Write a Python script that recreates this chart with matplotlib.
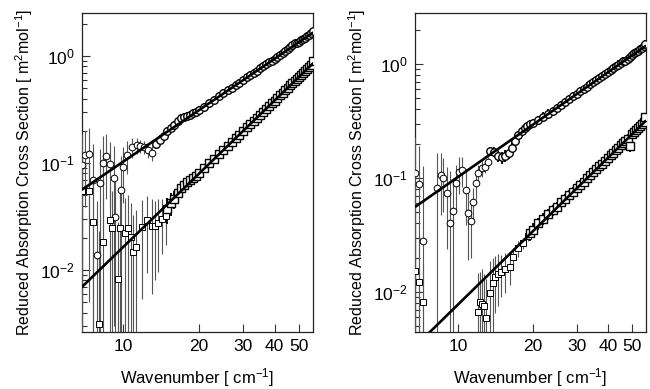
import matplotlib
matplotlib.use("Agg")
import matplotlib.pyplot as plt
from matplotlib.ticker import FixedLocator, FixedFormatter, NullLocator, NullFormatter, LogLocator

plt.rcParams['font.family'] = ['Liberation Sans', 'DejaVu Sans']
plt.rcParams['mathtext.fontset'] = 'custom'
plt.rcParams['mathtext.rm'] = 'Liberation Sans'
plt.rcParams['mathtext.it'] = 'Liberation Sans:italic'
plt.rcParams['mathtext.default'] = 'regular'

# ---------------- data ----------------
x_ticks = [10, 20, 30, 40, 50]
x_tick_labels = ["10", "20", "30", "40", "50"]
y_ticks = [1e-2, 1e-1, 1e0]
y_tick_labels = ["$10^{-2}$", "$10^{-1}$", "$10^{0}$"]
x_label = "Wavenumber [ cm$^{-1}$]"
y_label = "Reduced Absorption Cross Section [ m$^{2}$mol$^{-1}$]"

# Left panel, circles (upper series): noisy low-wavenumber part
L_circ_low_nu = [6.85, 7.06, 7.35, 7.6, 7.9, 8.1, 8.33, 8.56, 8.88, 9.2, 9.3, 9.8, 10.0, 10.4,
                 10.85, 11.35, 11.7, 12.1, 12.6, 13.0]
L_circ_low_val = [0.096, 0.119, 0.120, 0.070, 0.0138, 0.065, 0.100, 0.116, 0.0985, 0.073, 0.0315,
                  0.056, 0.092, 0.119, 0.141, 0.147, 0.144, 0.141, 0.132, 0.124]
L_circ_low_err = [0.09, 0.08, 0.09, 0.08, 0.03, 0.07, 0.08, 0.07, 0.06, 0.07, 0.04, 0.06, 0.05,
                  0.04, 0.03, 0.025, 0.02, 0.02, 0.02, 0.02]
# Left panel, circles: dense part
L_circ_nu = [13.5, 14, 14.5, 15, 15.5, 16, 16.5, 17, 17.5, 18, 18.5, 19, 19.5, 20,
             21, 22, 23, 24, 25, 26, 27, 28, 29, 30, 31, 32, 33, 34, 35, 36, 37, 38, 39, 40,
             41, 42, 43, 44, 45, 46, 47, 48, 49, 50, 51, 52, 53, 54, 55, 56, 56.6]
L_circ_val = [0.150, 0.165, 0.18, 0.198, 0.212, 0.228, 0.245, 0.262, 0.27, 0.275, 0.28, 0.29, 0.30, 0.31,
              0.335, 0.36, 0.39, 0.42, 0.45, 0.48, 0.50, 0.53, 0.56, 0.59, 0.63, 0.66, 0.70, 0.73,
              0.77, 0.80, 0.84, 0.87, 0.90, 0.93, 0.97, 1.02, 1.07, 1.12, 1.17, 1.22, 1.27, 1.31,
              1.33, 1.36, 1.40, 1.44, 1.48, 1.53, 1.58, 1.63, 1.70]
L_circ_err = [0.015, 0.016, 0.017, 0.018, 0.019, 0.02, 0.021, 0.022, 0.023, 0.024, 0.025, 0.026, 0.027, 0.028,
              0.03, 0.032, 0.034, 0.037, 0.039, 0.042, 0.044, 0.047, 0.049, 0.052, 0.055, 0.058, 0.061, 0.064,
              0.067, 0.07, 0.073, 0.076, 0.079, 0.082, 0.085, 0.089, 0.093, 0.097, 0.1, 0.105, 0.11, 0.113,
              0.115, 0.118, 0.121, 0.124, 0.127, 0.131, 0.135, 0.14, 0.12]

# Left panel, squares (lower series): noisy low part
L_sq_low_nu = [6.88, 7.35, 7.58, 8.0, 8.35, 8.87, 9.0, 9.55, 9.7, 10.2, 10.5, 10.8, 11.0, 11.3,
               11.9, 12.4, 13.0, 13.4, 13.8, 14.3, 14.8]
L_sq_low_val = [0.055, 0.055, 0.028, 0.0031, 0.0183, 0.0294, 0.0247, 0.0083, 0.0247, 0.0221, 0.0247,
                0.0204, 0.0147, 0.0165, 0.0253, 0.0294, 0.026, 0.026, 0.0276, 0.030, 0.032]
L_sq_low_err = [0.06, 0.05, 0.04, 0.02, 0.03, 0.03, 0.03, 0.02, 0.03, 0.025, 0.025, 0.022, 0.018, 0.02,
                0.02, 0.02, 0.02, 0.018, 0.018, 0.016, 0.015]
# Left panel, squares: dense part
L_sq_nu = [15, 15.5, 16, 16.5, 17, 17.5, 18, 18.5, 19, 19.5, 20,
           21, 22, 23, 24, 25, 26, 27, 28, 29, 30, 31, 32, 33, 34, 35, 36, 37, 38, 39, 40,
           41, 42, 43, 44, 45, 46, 47, 48, 49, 50, 51, 52, 53, 54, 55, 56, 56.6]
L_sq_val = [0.037, 0.042, 0.046, 0.052, 0.058, 0.062, 0.066, 0.069, 0.072, 0.076, 0.080,
            0.089, 0.099, 0.109, 0.120, 0.131, 0.143, 0.156, 0.170, 0.184, 0.199, 0.215, 0.232, 0.248,
            0.265, 0.283, 0.302, 0.322, 0.340, 0.360, 0.382, 0.405, 0.430, 0.455, 0.480, 0.505, 0.530,
            0.556, 0.582, 0.610, 0.640, 0.668, 0.700, 0.730, 0.760, 0.795, 0.830, 0.90]
L_sq_err = [0.01, 0.01, 0.009, 0.009, 0.008, 0.008, 0.008, 0.008, 0.008, 0.008, 0.008,
            0.009, 0.009, 0.01, 0.011, 0.012, 0.013, 0.014, 0.016, 0.017, 0.018, 0.02, 0.021, 0.023,
            0.024, 0.026, 0.028, 0.03, 0.031, 0.033, 0.035, 0.037, 0.039, 0.041, 0.043, 0.045, 0.047,
            0.05, 0.052, 0.055, 0.057, 0.06, 0.063, 0.065, 0.068, 0.071, 0.074, 0.06]

# Right panel, circles: noisy low part
R_circ_low_nu = [6.72, 6.99, 7.21, 8.24, 8.52, 8.7, 9.0, 9.3, 9.55, 9.8, 10.1, 10.4, 10.8, 10.95,
                 11.3, 11.5, 11.8, 12.0, 12.5, 12.8, 13.2]
R_circ_low_val = [0.111, 0.089, 0.028, 0.082, 0.107, 0.100, 0.074, 0.040, 0.051, 0.090, 0.113, 0.118,
                  0.079, 0.049, 0.042, 0.062, 0.090, 0.110, 0.122, 0.125, 0.138]
R_circ_low_err = [0.12, 0.1, 0.1, 0.085, 0.06, 0.05, 0.05, 0.076, 0.05, 0.04, 0.04, 0.035, 0.04, 0.03,
                  0.022, 0.02, 0.025, 0.02, 0.02, 0.015, 0.015]
# Right panel, circles: dense part
R_circ_nu = [13.5, 14, 14.5, 15, 15.5, 16, 16.5, 17, 17.5, 18, 18.5, 19, 19.5, 20,
             21, 22, 23, 24, 25, 26, 27, 28, 29, 30, 31, 32, 33, 34, 35, 36, 37, 38, 39, 40,
             41, 42, 43, 44, 45, 46, 47, 48, 49, 50, 51, 52, 53, 54, 55, 56, 56.6]
R_circ_val = [0.172, 0.170, 0.156, 0.152, 0.156, 0.166, 0.185, 0.210, 0.236, 0.258, 0.272, 0.283, 0.295, 0.302,
              0.322, 0.345, 0.366, 0.388, 0.412, 0.438, 0.465, 0.492, 0.520, 0.547, 0.576, 0.604, 0.634,
              0.664, 0.694, 0.724, 0.756, 0.788, 0.82, 0.853, 0.885, 0.919, 0.953, 0.987, 1.02, 1.055,
              1.06, 1.10, 1.16, 1.20, 1.24, 1.28, 1.31, 1.35, 1.39, 1.43, 1.50]
R_circ_err = [0.015, 0.016, 0.017, 0.018, 0.019, 0.02, 0.021, 0.022, 0.023, 0.024, 0.025, 0.026, 0.027, 0.028,
              0.03, 0.032, 0.034, 0.035, 0.037, 0.04, 0.042, 0.044, 0.046, 0.049, 0.051, 0.054, 0.056, 0.059,
              0.061, 0.064, 0.067, 0.07, 0.072, 0.075, 0.078, 0.081, 0.084, 0.087, 0.09, 0.093, 0.094, 0.097,
              0.1, 0.104, 0.107, 0.11, 0.113, 0.116, 0.12, 0.123, 0.11]

# Right panel, squares: noisy low part
R_sq_low_nu = [6.72, 6.99, 7.21, 12.0, 12.25, 12.45, 12.7, 13.0, 13.45, 13.8, 14.07, 14.5, 14.95,
               15.4, 16.2, 16.6, 17.4, 18.2, 19.1]
R_sq_low_val = [0.0154, 0.0123, 0.0081, 0.0067, 0.0081, 0.0078, 0.0075, 0.0059, 0.0098, 0.012, 0.0136,
                0.0145, 0.015, 0.0159, 0.0165, 0.0204, 0.0243, 0.027, 0.031]
R_sq_low_err = [0.02, 0.02, 0.01, 0.008, 0.007, 0.008, 0.007, 0.007, 0.009, 0.008, 0.007, 0.007, 0.006,
                0.006, 0.005, 0.004, 0.004, 0.003, 0.003]
# Right panel, squares: dense part
R_sq_nu = [19.5, 20, 21, 22, 23, 24, 25, 26, 27, 28, 29, 30, 31, 32, 33, 34, 35, 36, 37, 38, 39, 40,
           41, 42, 43, 44, 45, 46, 47, 48, 49, 50, 51, 52, 53, 54, 55, 56, 56.6]
R_sq_val = [0.033, 0.035, 0.040, 0.044, 0.048, 0.052, 0.056, 0.061, 0.066, 0.071, 0.076, 0.082, 0.087,
            0.093, 0.099, 0.106, 0.112, 0.120, 0.127, 0.134, 0.142, 0.150, 0.158, 0.166, 0.175, 0.184,
            0.193, 0.202, 0.212, 0.222, 0.190, 0.242, 0.253, 0.264, 0.275, 0.286, 0.298, 0.312, 0.345]
R_sq_err = [0.005, 0.005, 0.005, 0.005, 0.005, 0.006, 0.006, 0.006, 0.007, 0.007, 0.008, 0.008, 0.009,
            0.01, 0.01, 0.011, 0.012, 0.012, 0.013, 0.014, 0.015, 0.016, 0.016, 0.017, 0.018, 0.019,
            0.02, 0.021, 0.022, 0.023, 0.02, 0.025, 0.026, 0.027, 0.028, 0.029, 0.03, 0.032, 0.03]

# Power-law fit lines (end points)
L_fit_upper_x = [6.85, 57.0]
L_fit_upper_y = [0.056, 1.66]
L_fit_lower_x = [6.85, 57.0]
L_fit_lower_y = [0.0069, 0.86]
R_fit_upper_x = [6.72, 57.0]
R_fit_upper_y = [0.0557, 1.45]
R_fit_lower_x = [7.5, 57.0]
R_fit_lower_y = [0.0042, 0.32]

# ---------------- plotting ----------------
fig = plt.figure(figsize=(6.5, 3.89), dpi=100)
ax_l = fig.add_axes([82 / 650, 57 / 389, 231 / 650, 319 / 389])
ax_r = fig.add_axes([415 / 650, 57 / 389, 231 / 650, 319 / 389])

low_style = dict(mfc='white', mec='black', mew=0.7, ms=4.8, ecolor='#555555', elinewidth=0.8,
                 capsize=0, linestyle='none')
dense_style = dict(mfc='white', mec='black', mew=1.0, ms=5.4, ecolor='black', elinewidth=1.3,
                   capsize=0, linestyle='none')


def draw(ax, series, fits, xlim, ylim):
    for nu, val, err, m, st in series:
        ax.errorbar(nu, val, yerr=err, marker=m, zorder=3, **st)
    for fx, fy in fits:
        ax.plot(fx, fy, color='black', lw=1.9, zorder=5, solid_capstyle='butt')
    ax.set_xscale('log')
    ax.set_yscale('log')
    ax.set_xlim(*xlim)
    ax.set_ylim(*ylim)
    ax.xaxis.set_major_locator(FixedLocator(x_ticks))
    ax.xaxis.set_major_formatter(FixedFormatter(x_tick_labels))
    ax.xaxis.set_minor_locator(NullLocator())
    ax.yaxis.set_major_locator(FixedLocator(y_ticks))
    ax.yaxis.set_major_formatter(FixedFormatter(y_tick_labels))
    ax.yaxis.set_minor_locator(LogLocator(base=10, subs=[2, 3, 4, 5, 6, 7, 8, 9]))
    ax.yaxis.set_minor_formatter(NullFormatter())
    ax.tick_params(which='both', direction='in', top=False, right=False, labelsize=12.5,
                   width=0.8, color='#333333')
    ax.tick_params(which='major', length=6, pad=5)
    ax.tick_params(which='minor', length=3.5)
    for s in ax.spines.values():
        s.set_linewidth(0.9)
        s.set_color('#222222')
    ax.set_xlabel(x_label, fontsize=12, labelpad=9)
    ax.set_ylabel(y_label, fontsize=11.5, labelpad=4)


draw(ax_l,
     [(L_circ_low_nu, L_circ_low_val, L_circ_low_err, 'o', low_style),
      (L_sq_low_nu, L_sq_low_val, L_sq_low_err, 's', low_style),
      (L_sq_nu, L_sq_val, L_sq_err, 's', dense_style),
      (L_circ_nu, L_circ_val, L_circ_err, 'o', dense_style)],
     [(L_fit_upper_x, L_fit_upper_y), (L_fit_lower_x, L_fit_lower_y)],
     (6.87, 56.8), (2.63e-3, 2.52))

draw(ax_r,
     [(R_circ_low_nu, R_circ_low_val, R_circ_low_err, 'o', low_style),
      (R_sq_low_nu, R_sq_low_val, R_sq_low_err, 's', low_style),
      (R_sq_nu, R_sq_val, R_sq_err, 's', dense_style),
      (R_circ_nu, R_circ_val, R_circ_err, 'o', dense_style)],
     [(R_fit_upper_x, R_fit_upper_y), (R_fit_lower_x, R_fit_lower_y)],
     (6.72, 56.9), (4.46e-3, 2.8))

fig.savefig("out.png", dpi=100)
